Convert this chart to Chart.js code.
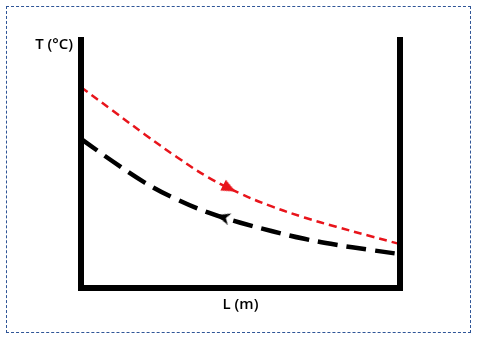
<!DOCTYPE html>
<html lang="en">
<head>
  <meta charset="UTF-8">
  <title>T vs L</title>
  <script src="https://cdn.jsdelivr.net/npm/chart.js"></script>
  <style>
    body {
      margin: 0;
      background: #fff;
    }
    .frame {
      position: absolute;
      left: 6px;
      top: 6px;
      width: 463px;
      height: 325px;
      border: 1px dashed #2f5597;
    }
    .chart-container {
      position: absolute;
      left: 0;
      top: 0;
      width: 477px;
      height: 339px;
    }
  </style>
</head>
<body>
  <div class="frame"></div>
  <div class="chart-container">
    <canvas id="tempChart"></canvas>
  </div>

  <script>
    // Position along the channel (m) and temperatures
    const lengths = [0, 1, 2, 3, 4, 5, 6, 7, 8, 9, 10];
    const hotTemps = [80.0, 70.6, 61.2, 52.2, 44.0, 37.6, 32.4, 28.1, 24.4, 20.9, 17.5];
    const coldTemps = [59.4, 50.4, 42.0, 35.3, 30.0, 26.0, 22.6, 19.6, 17.2, 15.3, 13.5];

    // Flow-direction arrows (position + heading in degrees, 0 = pointing right)
    const hotArrow = { x: 4.65, y: 39.7 };
    const coldArrow = { x: 4.45, y: 28.2 };
    const hotHeading = 27;
    const coldHeading = 197;

    const yTitle = 'T (°C)';
    const xTitle = 'L (m)';

    function toPoints(values) {
      return lengths.map((l, i) => ({ x: l, y: values[i] }));
    }

    // small arrowhead images pointing right, rotated by Chart.js
    function arrowHead(color, notched) {
      const c = document.createElement('canvas');
      c.width = 14;
      c.height = 12;
      const g = c.getContext('2d');
      g.fillStyle = color;
      g.beginPath();
      g.moveTo(0, 0);
      g.lineTo(14, 6);
      g.lineTo(0, 12);
      if (notched) g.lineTo(4, 6);
      g.closePath();
      g.fill();
      return c;
    }

    // Draws the thick U-shaped walls and the axis labels
    const wallsPlugin = {
      id: 'walls',
      afterDatasetsDraw(chart) {
        const { ctx, chartArea } = chart;
        ctx.save();
        ctx.strokeStyle = '#000';
        ctx.lineWidth = 6;
        ctx.lineJoin = 'miter';
        ctx.lineCap = 'butt';
        ctx.beginPath();
        ctx.moveTo(chartArea.left, chartArea.top);
        ctx.lineTo(chartArea.left, chartArea.bottom);
        ctx.lineTo(chartArea.right, chartArea.bottom);
        ctx.lineTo(chartArea.right, chartArea.top);
        ctx.stroke();

        ctx.fillStyle = '#000';
        ctx.font = '600 15px "Open Sans"';
        ctx.textBaseline = 'middle';
        ctx.textAlign = 'right';
        ctx.fillText(yTitle, chartArea.left - 8, chartArea.top + 8);
        ctx.textAlign = 'center';
        ctx.fillText(xTitle, (chartArea.left + chartArea.right) / 2, chartArea.bottom + 17);
        ctx.restore();
      }
    };

    new Chart(document.getElementById('tempChart').getContext('2d'), {
      type: 'line',
      data: {
        datasets: [
          {
            data: toPoints(hotTemps),
            borderColor: '#e8141b',
            borderWidth: 2.5,
            borderDash: [8, 5],
            pointRadius: 0,
            fill: false,
            tension: 0.4
          },
          {
            data: toPoints(coldTemps),
            borderColor: '#000',
            borderWidth: 4.5,
            borderDash: [20, 9],
            pointRadius: 0,
            fill: false,
            tension: 0.4
          },
          {
            data: [hotArrow],
            showLine: false,
            pointStyle: arrowHead('#e8141b', false),
            pointRadius: 7,
            pointRotation: hotHeading
          },
          {
            data: [coldArrow],
            showLine: false,
            pointStyle: arrowHead('#000', true),
            pointRadius: 7,
            pointRotation: coldHeading
          }
        ]
      },
      options: {
        responsive: true,
        maintainAspectRatio: false,
        animation: false,
        layout: { padding: { left: 81, right: 77, top: 37, bottom: 51 } },
        plugins: {
          legend: { display: false },
          tooltip: { enabled: false }
        },
        scales: {
          x: { type: 'linear', min: 0, max: 10, display: false },
          y: { min: 0, max: 100, display: false }
        }
      },
      plugins: [wallsPlugin]
    });
  </script>
</body>
</html>
